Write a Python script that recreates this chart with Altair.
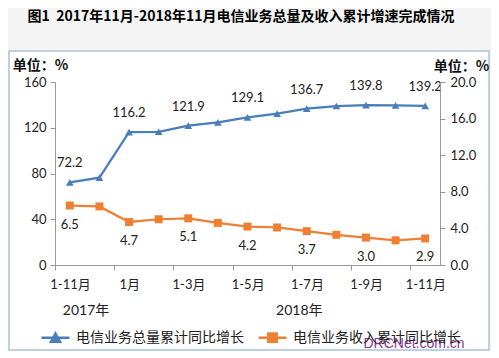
import altair as alt
import pandas as pd

categories = ['1-11月', '1-12月', '1月', '1-2月', '1-3月', '1-4月', '1-5月',
              '1-6月', '1-7月', '1-8月', '1-9月', '1-10月', '1-11月']
volume = [72.2, 76.4, 116.2, 116.5, 121.9, 124.7, 129.1, 132.3, 136.7, 139.0, 139.8, 139.6, 139.2]
revenue = [6.5, 6.4, 4.7, 5.0, 5.1, 4.6, 4.2, 4.1, 3.7, 3.3, 3.0, 2.7, 2.9]
year_names = ['2017年', '2018年']
year_pos = [0.55, 7.75]
series_names = ['电信业务总量累计同比增长', '电信业务收入累计同比增长']
colors = ['#4A7EBB', '#EE7F33']
title_text = '图1\u00a0\u00a02017年11月-2018年11月电信业务总量及收入累计增速完成情况'
left_ticks = [0, 40, 80, 120, 160]
right_ticks = [0, 4, 8, 12, 16, 20]
unit_text = '单位：%'
watermark = 'DRCNet.com.cn'

W, H = 385, 183
FONT = 'Lato, "Noto Sans CJK SC", sans-serif'
CJK = '"Noto Sans CJK SC", sans-serif'
n = len(categories)

df_v = pd.DataFrame({'idx': list(range(n)), 'value': volume, 'series': series_names[0]})
df_r = pd.DataFrame({'idx': list(range(n)), 'value': revenue, 'series': series_names[1]})
lab_v = df_v[df_v.idx % 2 == 0]
lab_r = df_r[df_r.idx % 2 == 0]
years = pd.DataFrame({'pos': year_pos, 'name': year_names})
one = pd.DataFrame({'k': [0]})
leg_df = pd.DataFrame({'idx': [0, 0], 'series': series_names})

xscale = alt.Scale(domain=[-0.5, n - 0.5], nice=False, zero=False)
bounds = [i - 0.5 for i in range(n + 1)]
cat_js = '[' + ','.join("'%s'" % c for c in categories) + ']'
label_expr = (f"(round(datum.value + 0.5) % 2 == 0 && round(datum.value + 0.5) < {n}) "
              f"? {cat_js}[round(datum.value + 0.5)] : ''")

xaxis = alt.Axis(values=bounds, labelExpr=label_expr, labelOffset=15, tickSize=5,
                 tickColor='#999', domainColor='#999', labelFontSize=13, labelFont=FONT,
                 labelColor='#222', labelPadding=8, grid=False, title=None,
                 labelOverlap=False, labelFlush=False, labelBound=False, zindex=1)
X = alt.X('idx:Q', scale=xscale, axis=xaxis)

left_axis = alt.Axis(values=left_ticks, tickSize=5, tickColor='#999', domainColor='#999',
                     labelFontSize=13, labelFont=FONT, labelColor='#222', labelPadding=4,
                     grid=False, zindex=1, title=unit_text, titleAngle=0, titleX=-15,
                     titleY=-17, titleAlign='center', titleBaseline='middle', titleFont=CJK,
                     titleFontSize=14, titleFontWeight='bold', titleColor='#111')
right_axis = alt.Axis(orient='right', values=right_ticks, format='.1f', tickSize=5,
                      tickColor='#999', domainColor='#999', labelFontSize=13, labelFont=FONT,
                      labelColor='#222', labelPadding=5, grid=False, zindex=1,
                      title=unit_text, titleAngle=0, titleX=21, titleY=-16,
                      titleAlign='center', titleBaseline='middle', titleFont=CJK,
                      titleFontSize=14, titleFontWeight='bold', titleColor='#111')

tri = 'M-1,0L1,0M-0.32,0.28L0,-0.3L0.32,0.28Z'
sq = 'M-1,0L1,0M-0.3,-0.3L0.3,-0.3L0.3,0.3L-0.3,0.3Z'
legend = alt.Legend(orient='none', legendX=-15, legendY=240, direction='horizontal',
                    title=None, labelFont=CJK, labelFontSize=14, labelColor='#222',
                    labelLimit=400, symbolSize=784, symbolStrokeWidth=2.5,
                    symbolOpacity=1, labelOffset=5, columnPadding=9, padding=0, zindex=1)
col_scale = alt.Scale(domain=series_names, range=colors)
leg_shape_scale = alt.Scale(domain=series_names, range=[tri, sq])

frame = alt.Chart(one).mark_rect(fill='white', stroke='#A9C3D6', strokeWidth=1.5).encode(
    x=alt.value(-46), x2=alt.value(434), y=alt.value(-31), y2=alt.value(268))
title = alt.Chart(one).mark_text(text=title_text, font=CJK, fontSize=14, fontWeight='bold',
                                 align='center', baseline='middle', color='#000').encode(
    x=alt.value(186), y=alt.value(-65))
mark_wm = alt.Chart(one).mark_text(text=watermark, font='Liberation Sans', fontSize=14,
                                   color='#8E3A9E', align='center', baseline='middle').encode(
    x=alt.value(359), y=alt.value(262))
year_txt = alt.Chart(years).mark_text(font=FONT, fontSize=14, color='#222',
                                      baseline='middle').encode(
    x=alt.X('pos:Q', scale=xscale), y=alt.value(229), text='name:N')
# invisible layer that only provides the legend (line + marker symbols)
leg_layer = alt.Chart(leg_df).mark_point(opacity=0, filled=True).encode(
    x=X, y=alt.value(0),
    fill=alt.Fill('series:N', scale=col_scale, legend=legend),
    stroke=alt.Stroke('series:N', scale=col_scale, legend=legend),
    shape=alt.Shape('series:N', scale=leg_shape_scale, legend=legend))

Yv = alt.Y('value:Q', scale=alt.Scale(domain=[0, 160], nice=False), axis=left_axis)
line_v = alt.Chart(df_v).mark_line(strokeWidth=2.25, color=colors[0]).encode(x=X, y=Yv)
pts_v = alt.Chart(df_v).mark_point(filled=True, opacity=1, size=60, shape='triangle-up',
                                   color=colors[0]).encode(x=X, y=Yv)
txt_v = alt.Chart(lab_v).mark_text(dy=-19, fontSize=13, font=FONT, color='#222').encode(
    x=X, y=Yv, text=alt.Text('value:Q', format='.1f'))

Yr = alt.Y('value:Q', scale=alt.Scale(domain=[0, 20], nice=False), axis=right_axis)
line_r = alt.Chart(df_r).mark_line(strokeWidth=2.25, color=colors[1]).encode(x=X, y=Yr)
pts_r = alt.Chart(df_r).mark_point(filled=True, opacity=1, size=64, shape='square',
                                   color=colors[1]).encode(x=X, y=Yr)
txt_r = alt.Chart(lab_r).mark_text(dy=19, fontSize=13, font=FONT, color='#222').encode(
    x=X, y=Yr, text=alt.Text('value:Q', format='.1f'))

blue = alt.layer(frame, title, mark_wm, year_txt, leg_layer, line_v, pts_v, txt_v)
orange = alt.layer(line_r, pts_r, txt_r)

chart = alt.layer(blue, orange).resolve_scale(y='independent').properties(
    width=W, height=H,
    autosize=alt.AutoSizeParams(type='none'),
    padding={'left': 47, 'top': 74, 'right': 51, 'bottom': 86},
    background='#F4F4F4',
).configure_view(stroke=None)

chart.save('out.html', embed_options={'renderer': 'svg', 'actions': False})
